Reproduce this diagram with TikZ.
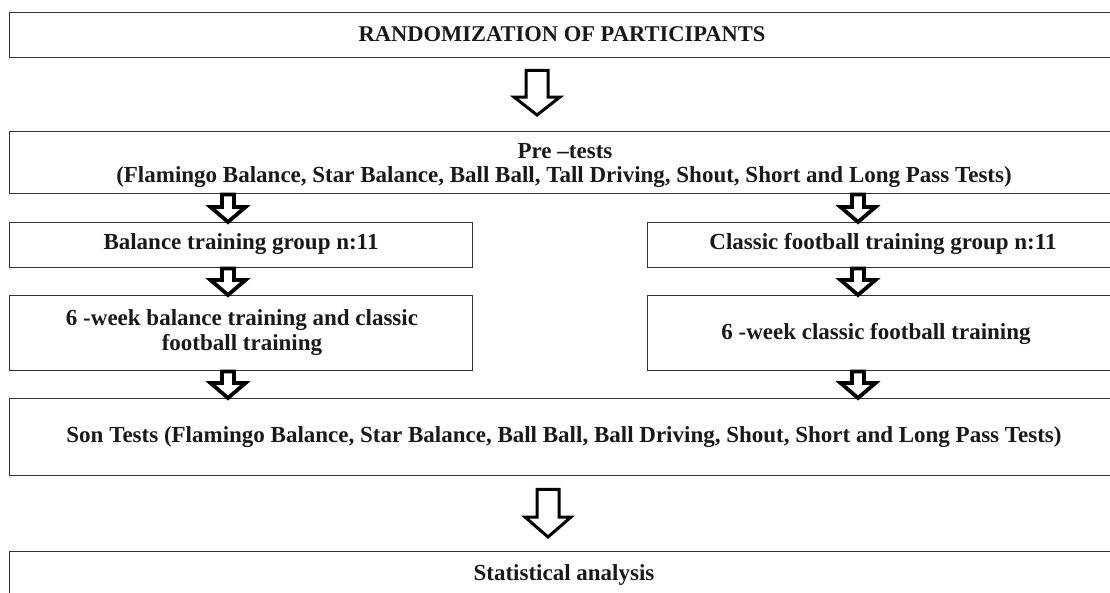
\documentclass[tikz,border=0pt]{standalone}
\usepackage{fontspec}
\setmainfont{Liberation Serif}
\usetikzlibrary{calc}
\tikzset{
  box/.style={draw=black!80, line width=1.4pt, rectangle, inner sep=0pt, anchor=north west},
  lbl/.style={font=\fontsize{23}{25}\selectfont\bfseries, inner sep=0pt, align=center, text=black!90},
  bigarr/.style={draw=black, line width=3pt, fill=white, line join=miter},
  smallarr/.style={draw=black, line width=3.8pt, fill=white, line join=miter},
}
\newcommand\hollowarrow[6]{%
  \draw[#1] let \p1=(#2), \p2=(#3) in
    (\x1-#4,\y1) -- (\x1+#4,\y1) -- (\x1+#4,\y2+#6) -- (\x1+#5,\y2+#6) --
    (\x1,\y2) -- (\x1-#5,\y2+#6) -- (\x1-#4,\y2+#6) -- cycle;}
\begin{document}
\begin{tikzpicture}[x=1pt,y=-1pt]
\useasboundingbox (0,0) rectangle (1110,592);
\clip (0,0) rectangle (1110,592);
% boxes
\node[box, minimum width=1110pt, minimum height=45pt] (rand) at (9,12) {};
\node[box, minimum width=1110pt, minimum height=62pt] (pre) at (9,131) {};
\node[box, minimum width=463pt, minimum height=45pt] (bal) at (9,222) {};
\node[box, minimum width=472pt, minimum height=45pt] (cls) at (647,222) {};
\node[box, minimum width=463pt, minimum height=75pt] (bal6) at (9,295) {};
\node[box, minimum width=472pt, minimum height=75pt] (cls6) at (647,295) {};
\node[box, minimum width=1110pt, minimum height=77pt] (son) at (9,398) {};
\node[box, minimum width=1110pt, minimum height=70pt] (stat) at (9,551) {};
% texts
\node[lbl, font=\fontsize{22.5}{25}\selectfont\bfseries] (trand) at (562,34) {RANDOMIZATION OF PARTICIPANTS};
\node[lbl] (tpre1) at (565,151) {Pre –tests};
\node[lbl] (tpre2) at (564,177) {(Flamingo Balance, Star Balance, Ball Ball, Tall Driving, Shout, Short and Long Pass Tests)};
\node[lbl] (tbal) at (241,244) {Balance training group n:11};
\node[lbl] (tcls) at (883,244) {Classic football training group n:11};
\node[lbl] (tbal6) at (242,333) {6 -week balance training and classic\\football training};
\node[lbl] (tcls6) at (876,334) {6 -week classic football training};
\node[lbl] (tson) at (564,437) {Son Tests (Flamingo Balance, Star Balance, Ball Ball, Ball Driving, Shout, Short and Long Pass Tests)};
\node[lbl] (tstat) at (564,575) {Statistical analysis};
% arrow end points
\coordinate (a1t) at ($(rand.south -| 537,0)+(0,12)$);
\coordinate (a1b) at ($(pre.north -| 537,0)+(0,-16)$);
\coordinate (l1t) at (pre.south -| 228,0);
\coordinate (l1b) at (bal.north -| 228,0);
\coordinate (l2t) at (bal.south -| 228,0);
\coordinate (l2b) at (bal6.north -| 228,0);
\coordinate (l3t) at (bal6.south -| 228,0);
\coordinate (l3b) at (son.north -| 228,0);
\coordinate (r1t) at (pre.south -| 858,0);
\coordinate (r1b) at (cls.north -| 858,0);
\coordinate (r2t) at (cls.south -| 858,0);
\coordinate (r2b) at (cls6.north -| 858,0);
\coordinate (r3t) at (cls6.south -| 858,0);
\coordinate (r3b) at (son.north -| 858,0);
\coordinate (a2t) at ($(son.south -| 548,0)+(0,13)$);
\coordinate (a2b) at ($(stat.north -| 548,0)+(0,-14)$);
% arrows
\hollowarrow{bigarr}{a1t}{a1b}{11pt}{23pt}{18pt}
\hollowarrow{bigarr}{a2t}{a2b}{11pt}{23pt}{20pt}
\hollowarrow{smallarr}{l1t}{l1b}{6pt}{17.5pt}{15pt}
\hollowarrow{smallarr}{l2t}{l2b}{6pt}{17.5pt}{15pt}
\hollowarrow{smallarr}{l3t}{l3b}{6pt}{17.5pt}{15pt}
\hollowarrow{smallarr}{r1t}{r1b}{6pt}{17.5pt}{15pt}
\hollowarrow{smallarr}{r2t}{r2b}{6pt}{17.5pt}{15pt}
\hollowarrow{smallarr}{r3t}{r3b}{6pt}{17.5pt}{15pt}
\end{tikzpicture}
\end{document}
